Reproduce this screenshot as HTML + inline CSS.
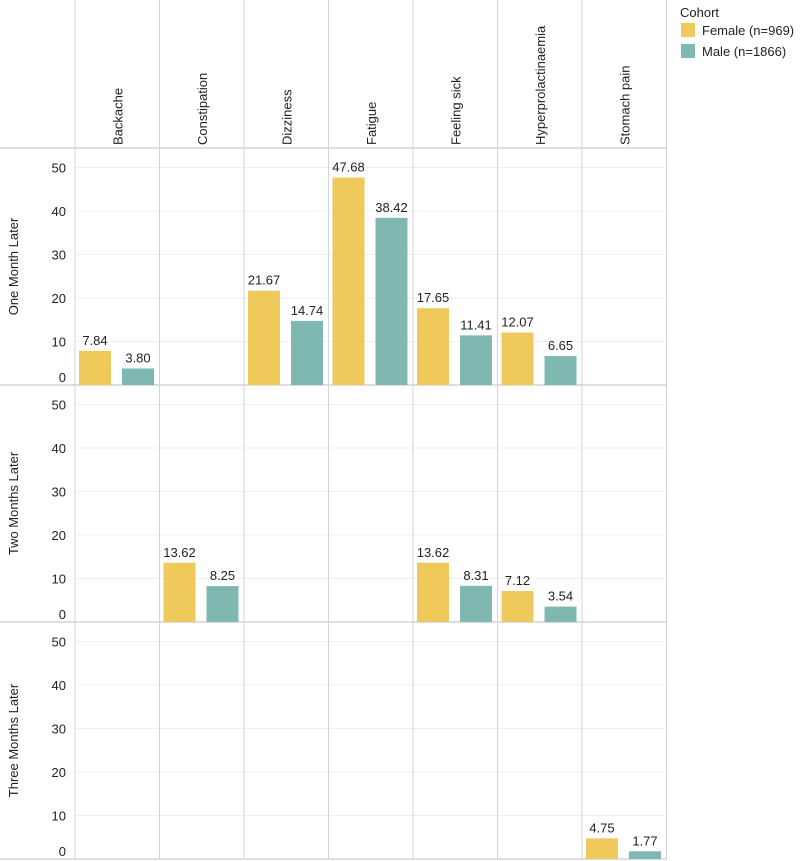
<!DOCTYPE html>
<html><head><meta charset="utf-8"><style>
body{margin:0;background:#fff;}
svg{display:block;font-family:"Liberation Sans",sans-serif;}
</style></head><body>
<svg id="chart" width="800" height="861"></svg>
<script>
const categories=["Backache","Constipation","Dizziness","Fatigue","Feeling sick","Hyperprolactinaemia","Stomach pain"];
const rows=["One Month Later","Two Months Later","Three Months Later"];
const femaleValues=[
 [7.84,null,21.67,47.68,17.65,12.07,null],
 [null,13.62,null,null,13.62,7.12,null],
 [null,null,null,null,null,null,4.75]];
const maleValues=[
 [3.80,null,14.74,38.42,11.41,6.65,null],
 [null,8.25,null,null,8.31,3.54,null],
 [null,null,null,null,null,null,1.77]];
const ticks=[0,10,20,30,40,50];
const legendLabels=["Female (n=969)","Male (n=1866)"];
const colors=["#f0c95c","#7fb8b1"];

const NS="http://www.w3.org/2000/svg";
const svg=document.getElementById('chart');
function mk(tag,attrs,parent){const e=document.createElementNS(NS,tag);for(const k in attrs)e.setAttribute(k,attrs[k]);(parent||svg).appendChild(e);return e;}
const x0=75,colW=84.5,headerH=148,rowH=237,unit=4.35;
const colX=i=>x0+i*colW;
const rowBase=r=>headerH+(r+1)*rowH;
const y=(r,v)=>rowBase(r)-v*unit;

for(let r=0;r<3;r++){
  ticks.forEach(t=>{ if(t>0){const l=mk('line',{x1:x0,x2:colX(7),y1:y(r,t),y2:y(r,t),stroke:'#f0f0f0','stroke-width':1});
  }
  const ty=t===0?y(r,t)-3:y(r,t)+5;
  const tx=mk('text',{x:66,y:ty,'text-anchor':'end','font-size':13,fill:'#222'});tx.textContent=t;
  });
  const rl=mk('text',{transform:`translate(18,${headerH+r*rowH+rowH/2}) rotate(-90)`,'text-anchor':'middle','font-size':13,fill:'#222'});
  rl.textContent=rows[r];
  
}
for(let i=0;i<=7;i++){const l=mk('line',{x1:colX(i),x2:colX(i),y1:0,y2:859,stroke:'#d4d4d4','stroke-width':1});
 }
for(let r=0;r<=3;r++){const yy=headerH+r*rowH;const l=mk('line',{x1:0,x2:colX(7),y1:yy,y2:yy,stroke:'#d4d4d4','stroke-width':1.5});
 }
categories.forEach((c,i)=>{const t=mk('text',{transform:`translate(${colX(i)+colW/2+5},145) rotate(-90)`,'font-size':13,fill:'#222'});
 t.textContent=c;});
const bw=32;
[femaleValues,maleValues].forEach((series,s)=>{
 series.forEach((rowVals,r)=>rowVals.forEach((v,i)=>{
  if(v==null)return;
  const bx=colX(i)+4+s*(bw+11);
  const b=mk('rect',{x:bx,y:y(r,v),width:bw,height:v*unit,fill:colors[s]});
  
  const t=mk('text',{x:bx+bw/2,y:y(r,v)-6,'text-anchor':'middle','font-size':13,fill:'#222'});
  t.textContent=v.toFixed(2);
 }));
});
const lt=mk('text',{x:680,y:17,'font-size':13,fill:'#222'});lt.textContent='Cohort';

legendLabels.forEach((lab,s)=>{
 const g=mk('g',{});
 mk('rect',{x:681,y:23+s*21,width:14,height:14,fill:colors[s]},g);
 const t=mk('text',{x:702,y:35+s*21,'font-size':13,fill:'#222'},g);t.textContent=lab;
});
</script>
</body></html>
